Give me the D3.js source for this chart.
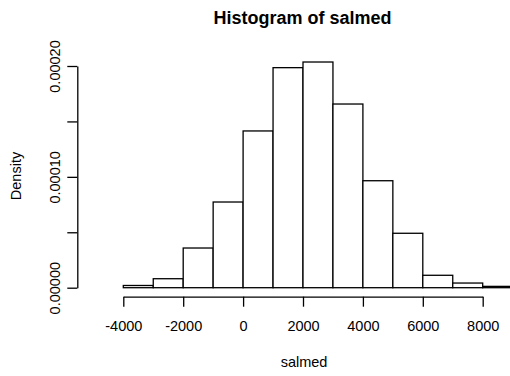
<!DOCTYPE html>
<html>
<head>
<meta charset="utf-8">
<script src="https://cdn.jsdelivr.net/npm/d3@7"></script>
<style>
  html, body { margin: 0; padding: 0; background: #fff; }
  svg { display: block; }
  text { font-family: "Liberation Sans", Arial, Helvetica, sans-serif; fill: #000; }
</style>
</head>
<body>
<svg id="chart" width="510" height="376"></svg>
<script>
// ---- data ----
const binStarts = [-5000, -4000, -3000, -2000, -1000, 0, 1000, 2000, 3000, 4000, 5000, 6000, 7000, 8000];
const binWidth = 1000;
const density = [0, 0.0000020, 0.0000081, 0.0000358, 0.0000773, 0.0001414, 0.0001985, 0.0002036,
                 0.0001657, 0.0000965, 0.0000491, 0.0000112, 0.0000042, 0.0000012];
const xTicks = [-4000, -2000, 0, 2000, 4000, 6000, 8000];
const yTicks = [0, 0.00005, 0.0001, 0.00015, 0.0002];
const yTickLabels = ["0.00000", "", "0.00010", "", "0.00020"];
const title = "Histogram of salmed";
const xLabel = "salmed";
const yLabel = "Density";

// ---- layout ----
const svg = d3.select("#chart");
const x = d3.scaleLinear().domain([-4000, 8000]).range([123.3, 482.7]);
const y = d3.scaleLinear().domain([0, 0.0002]).range([287.7, 66]);

// bars
svg.append("g")
  .selectAll("rect")
  .data(density)
  .join("rect")
  .attr("x", (d, i) => x(binStarts[i]))
  .attr("width", (d, i) => x(binStarts[i] + binWidth) - x(binStarts[i]))
  .attr("y", d => y(d))
  .attr("height", d => y(0) - y(d))
  .attr("fill", "#fff")
  .attr("stroke", "#000")
  .attr("stroke-width", 1.3);

// x axis
const xAxis = svg.append("g")
  .attr("transform", "translate(0,296.7)")
  .call(d3.axisBottom(x).tickValues(xTicks).tickFormat(d => String(d)).tickSize(10).tickSizeOuter(0).tickPadding(14));
xAxis.selectAll("path, line").attr("stroke", "#000").attr("stroke-width", 1.3);
xAxis.selectAll("text").style("font-size", "14.5px").attr("font-family", "Liberation Sans, Arial, sans-serif").attr("fill", "#000");

// y axis
const yAxis = svg.append("g")
  .attr("transform", "translate(77.3,0)")
  .call(d3.axisLeft(y).tickValues(yTicks).tickFormat((d, i) => yTickLabels[i]).tickSize(10).tickSizeOuter(0));
yAxis.selectAll("path, line").attr("stroke", "#000").attr("stroke-width", 1.3);
yAxis.selectAll("text")
  .attr("x", null).attr("dy", null)
  .attr("text-anchor", "middle")
  .attr("transform", "translate(-22,0) rotate(-90)")
  .attr("dy", "0.35em")
  .style("font-size", "14.5px")
  .attr("font-family", "Liberation Sans, Arial, sans-serif")
  .attr("fill", "#000");

// title
svg.append("text")
  .attr("x", 302.5).attr("y", 24)
  .attr("text-anchor", "middle")
  .style("font-size", "18px").style("font-weight", "bold")
  .text(title);

// x label
svg.append("text")
  .attr("x", 304).attr("y", 367)
  .attr("text-anchor", "middle")
  .style("font-size", "14.5px")
  .text(xLabel);

// y label
svg.append("text")
  .attr("transform", "translate(21,176) rotate(-90)")
  .attr("text-anchor", "middle")
  .style("font-size", "14.5px")
  .text(yLabel);
</script>
</body>
</html>
